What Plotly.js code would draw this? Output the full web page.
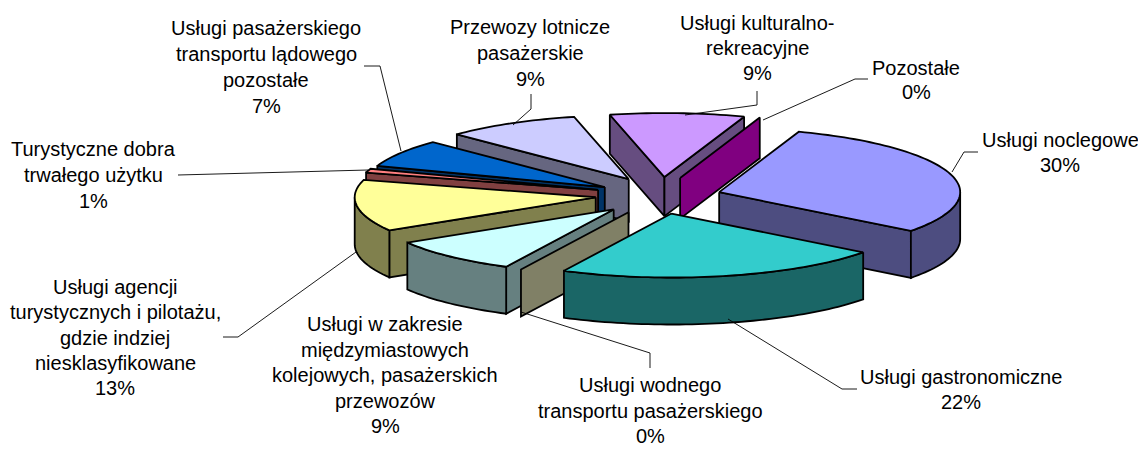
<!DOCTYPE html>
<html><head><meta charset="utf-8">
<script src="https://cdn.plot.ly/plotly-3.0.1.min.js"></script>
<style>html,body{margin:0;padding:0;background:#fff}#c{width:1138px;height:468px}</style>
</head><body><div id="c"></div>
<script>
// Data, clockwise from the first slice
const categories = ["Pozostałe","Usługi noclegowe","Usługi gastronomiczne","Usługi wodnego\ntransportu pasażerskiego","Usługi w zakresie\nmiędzymiastowych\nkolejowych, pasażerskich\nprzewozów","Usługi agencji\nturystycznych i pilotażu,\ngdzie indziej\nniesklasyfikowane","Turystyczne dobra\ntrwałego użytku","Usługi pasażerskiego\ntransportu lądowego\npozostałe","Przewozy lotnicze\npasażerskie","Usługi kulturalno-\nrekreacyjne"];
const values = [0,30,22,0,9,13,1,7,9,9];
const colors = ["#FF00FF","#9999FF","#33CCCC","#FFFFCC","#CCFFFF","#FFFF99","#FF8080","#0066CC","#CCCCFF","#CC99FF"];

// Pie projection
const startAngle = 19.3, CX = 657, CY = 197, RX = 241, RY = 64, EXPLODE = 0.265;
const DEPTH_NEAR = 47, DEPTH_FAR_LOSS = 8;
const nudgeX = [2,1,0,0,0,2,2,2,3,4];
const nudgeY = [-3,0,0,0,0,-2,-2,-1,-3,-3];
const rad = d => d*Math.PI/180;
const total = values.reduce((a,b)=>a+b,0);
const halve = h => '#'+[1,3,5].map(i=>Math.round(parseInt(h.substr(i,2),16)/2).toString(16).padStart(2,'0')).join('');

// Label placement: centre x, first-line y, line pitch
const labelX = [916,1060,961,650,385,115,93,266,530,757];
const labelY = [68,140,377,385,324,287,149,28,27,23];
const labelPitch = [24,25,25,25.5,25.5,25.3,26,26,26,25];
// Leader lines, one per slice
const leaders = [
 [[763,120],[855,79],[868,79]],
 [[952,172],[964,152],[978,152]],
 [[728,319],[842,389],[857,389]],
 [[521,312],[650,353],[650,368]],
 null,
 [[356,252],[238,337],[223,337]],
 [[368,170],[178,175]],
 [[401,151],[380,66],[364,66]],
 [[513,125],[531,109],[531,94]],
 [[685,115],[757,105],[757,91]]
];

let a = startAngle;
const slices = values.map((v,i)=>{
  const span = v/total*360, s = a, e = a+span; a = e;
  const mid = (s+e)/2;
  const tx = CX + EXPLODE*RX*Math.sin(rad(mid)) + nudgeX[i];
  const ty = CY - EXPLODE*RY*Math.cos(rad(mid)) + nudgeY[i];
  const depth = DEPTH_NEAR - DEPTH_FAR_LOSS*Math.pow(Math.max(0,Math.cos(rad(mid))),4);
  return {i,s,e,mid,tx,ty,depth,color:colors[i],wall:halve(colors[i])};
});

const traces = [];
function poly(xs,ys,fill){
  traces.push({type:'scatter',mode:'lines',x:[...xs,xs[0]],y:[...ys,ys[0]],fill:'toself',fillcolor:fill,
    line:{color:'#000',width:1.8,simplify:false},hoverinfo:'skip',showlegend:false});
}
const px = (sl,d)=>sl.tx+RX*Math.sin(rad(d));
const py = (sl,d)=>sl.ty-RY*Math.cos(rad(d));
function arc(d0,d1){const n=Math.max(2,Math.ceil(Math.abs(d1-d0)/1.5));const o=[];for(let k=0;k<=n;k++)o.push(d0+(d1-d0)*k/n);return o;}

// far slices first
[...slices].sort((p,q)=>Math.cos(rad(q.mid))-Math.cos(rad(p.mid))).forEach(sl=>{
  const D = sl.depth;
  const radial = d => {
    poly([sl.tx,px(sl,d),px(sl,d),sl.tx],[sl.ty,py(sl,d),py(sl,d)+D,sl.ty+D],sl.wall);
  };
  const sa = ((sl.s%360)+360)%360, ea = ((sl.e%360)+360)%360;
  if(sl.e>sl.s){
    if(Math.sin(rad(sa))<0) radial(sl.s);
    if(Math.sin(rad(ea))>0) radial(sl.e);
  } else radial(sl.s);
  // curved outer wall for the near half
  const lo = Math.max(sl.s,90), hi = Math.min(sl.e,270);
  if(hi>lo){
    const A = arc(lo,hi);
    poly([...A.map(d=>px(sl,d)),...[...A].reverse().map(d=>px(sl,d))],
         [...A.map(d=>py(sl,d)),...[...A].reverse().map(d=>py(sl,d)+D)],sl.wall);
  }
  if(sl.e>sl.s){
    const A = arc(sl.s,sl.e);
    poly([sl.tx,...A.map(d=>px(sl,d))],[sl.ty,...A.map(d=>py(sl,d))],sl.color);
  }
});

// Leaders
leaders.forEach(L=>{ if(!L) return;
  traces.push({type:'scatter',mode:'lines',x:L.map(p=>p[0]),y:L.map(p=>p[1]),
    line:{color:'#000',width:0.9},hoverinfo:'skip',showlegend:false});
});

// Labels
const annotations = [];
categories.forEach((c,i)=>{
  const lines = [...c.split('\n'), Math.round(values[i])+'%'];
  lines.forEach((t,k)=>annotations.push({x:labelX[i],y:labelY[i]+k*labelPitch[i],xref:'x',yref:'y',text:t,showarrow:false,
    xanchor:'center',yanchor:'middle',font:{family:'"Liberation Sans",Arial,sans-serif',size:20,color:'#000'}}));
});

Plotly.newPlot('c',traces,{
  width:1138,height:468,margin:{l:0,r:0,t:0,b:0},paper_bgcolor:'#fff',plot_bgcolor:'#fff',showlegend:false,
  xaxis:{range:[0,1138],visible:false,fixedrange:true},
  yaxis:{range:[468,0],visible:false,fixedrange:true},
  annotations
},{displayModeBar:false,staticPlot:true});
</script></body></html>
